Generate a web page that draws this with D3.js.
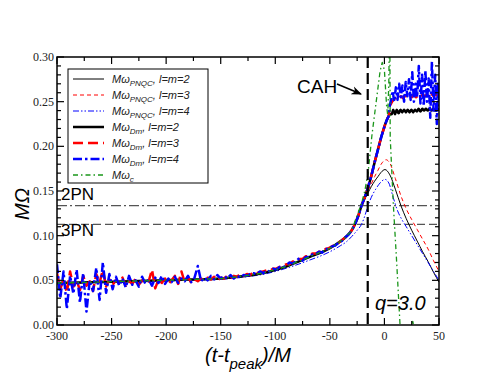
<!DOCTYPE html>
<html><head><meta charset="utf-8">
<script src="https://cdn.jsdelivr.net/npm/d3@7"></script>
<style>
body{margin:0;background:#fff;}
svg{display:block;}
</style></head>
<body><svg id="c" width="494" height="382"></svg>
<script>
// ---- data ----
const xTicks = [-300,-250,-200,-150,-100,-50,0,50];
const yTicks = [0.00,0.05,0.10,0.15,0.20,0.25,0.30];
const pn2 = 0.1336, pn3 = 0.1127, tCAH = -15.3;

const inspiralT = [-300,-270,-240,-210,-180,-150,-130,-110,-90,-70,-50,-40,-35,-30];
const inspiralV = [0.047,0.0478,0.0488,0.0498,0.0508,0.052,0.0545,0.0585,0.0655,0.0755,0.0859,0.094,0.0989,0.106];
const mergerT = [-27,-24,-21,-18,-15,-12,-9,-6,-3,0,2,4];
const mergerV = [0.1127,0.122,0.1336,0.143,0.154,0.167,0.182,0.196,0.210,0.222,0.229,0.234];

const blackRingT = [5,6.7,8,9.7,11.3,13,14.7,16.3,18,19.7,21.3,23,24.7,26.3,28,29.7,31.3,33,34.7,36.3,38,39.7,41.3,43,44.7,46.3,48,50];
const blackRingV = [0.236,0.236,0.241,0.236,0.241,0.237,0.241,0.238,0.241,0.238,0.241,0.238,0.241,0.238,0.241,0.239,0.242,0.239,0.242,0.240,0.242,0.240,0.242,0.240,0.242,0.240,0.242,0.241];

const redRingT = [5,7,9,11,13,15,17,19,21,23,25,27,29,31,33,35,37,39,41,43,45,47,50];
const redRingV = [0.245,0.250,0.253,0.255,0.253,0.256,0.254,0.257,0.255,0.257,0.255,0.258,0.255,0.257,0.255,0.258,0.256,0.258,0.255,0.259,0.256,0.258,0.256];

const blueRingT = [5,6,7.5,9,10.5,12,13.5,15,16.5,18,19.5,21,22.5,24,25.5,27,28.5,30,31.5,33,34.5,36,37.5,39,40.5,42,43.5,45,46.5,48,49,50];
const blueRingV = [0.246,0.252,0.262,0.250,0.266,0.252,0.270,0.255,0.268,0.250,0.272,0.256,0.275,0.252,0.283,0.250,0.270,0.255,0.290,0.248,0.280,0.245,0.285,0.250,0.276,0.232,0.295,0.240,0.280,0.225,0.270,0.245];

// noisy early part of the thick l=m=3 (red) and l=m=4 (blue) curves, t = -300..-30 step 3
const noisyT = d3.range(-300, -29, 3);
const redNoisyV = [0.058,0.040,0.052,0.036,0.060,0.043,0.050,0.039,0.055,0.044,0.049,0.038,0.057,0.047,0.062,0.043,
  0.051,0.045,0.050,0.047,0.053,0.044,0.049,0.046,0.052,0.045,0.050,0.047,0.049,0.062,0.041,0.051,0.047,0.052,0.046,0.050,
  0.055,0.046,0.060,0.048,0.054,0.047,0.051,0.049,0.052,0.050,0.053,0.051,0.054,0.050,0.053,0.052,0.055,0.052,0.055,0.054,
  0.057,0.055,0.057,0.056,0.059,0.058,0.059,0.060,0.061,0.061,0.063,0.063,0.065,0.066,0.068,0.068,0.071,0.071,0.074,0.074,
  0.077,0.077,0.080,0.080,0.082,0.082,0.085,0.086,0.088,0.090,0.092,0.095,0.098,0.101,0.106];
const blueNoisyV = [0.068,0.030,0.060,0.018,0.055,0.035,0.062,0.025,0.058,0.015,0.050,0.038,0.064,0.028,0.070,0.036,
  0.057,0.040,0.054,0.044,0.052,0.042,0.055,0.045,0.050,0.043,0.054,0.046,0.051,0.044,0.053,0.047,0.055,0.046,0.052,0.048,
  0.054,0.047,0.052,0.049,0.055,0.048,0.053,0.066,0.049,0.053,0.050,0.055,0.051,0.056,0.052,0.055,0.052,0.056,0.052,0.055,
  0.053,0.056,0.055,0.057,0.058,0.057,0.060,0.058,0.061,0.060,0.063,0.062,0.065,0.064,0.067,0.070,0.069,0.071,0.075,0.072,
  0.076,0.076,0.079,0.079,0.082,0.081,0.085,0.085,0.088,0.089,0.092,0.094,0.098,0.101,0.106];

const thinBlackT = [-27,-24,-21,-18,-15,-12,-9,-6,-3,0.5,5,10,15,20,25,30,35,40,45,50];
const thinBlackV = [0.1127,0.122,0.1336,0.141,0.148,0.155,0.161,0.166,0.171,0.174,0.168,0.152,0.134,0.119,0.106,0.094,0.082,0.071,0.059,0.048];
const thinRedT = [-27,-24,-21,-18,-15,-12,-9,-6,-3,1.5,5,10,15,20,25,30,35,40,45,50];
const thinRedV = [0.1127,0.122,0.1336,0.142,0.150,0.158,0.166,0.173,0.180,0.185,0.181,0.164,0.145,0.130,0.118,0.107,0.096,0.085,0.072,0.060];
const thinBlueT = [-300,-270,-240,-210,-180,-150,-130,-110,-90,-70,-50,-40,-35,-30,-25,-21,-18,-15,-12,-8,-4,0.5,4,8,12,16,20,25,30,35,40,45,50];
const thinBlueV = [0.046,0.047,0.048,0.049,0.050,0.0512,0.0535,0.057,0.0635,0.072,0.082,0.089,0.093,0.099,0.106,0.1127,0.122,0.1336,0.143,0.152,0.159,0.163,0.159,0.143,0.128,0.118,0.110,0.100,0.090,0.080,0.070,0.060,0.050];

const greenT = [-21,-18,-15,-11.4,-7,-4,-2,0,2,3,4,4.5,5,5.3,8.2,11,14.3,18,24,26,28];
const greenV = [0.136,0.150,0.170,0.213,0.255,0.284,0.294,0.285,0.245,0.235,0.27,0.32,0.32,0.21,0.134,0.075,0.0,-0.03,-0.01,0.004,-0.01];

// ---- layout ----
const svg = d3.select('#c');
const L=57,R=439,T=57,B=325;
const x = d3.scaleLinear().domain([-300,50]).range([L,R]);
const y = d3.scaleLinear().domain([0,0.30]).range([B,T]);
const zip=(ts,vs)=>ts.map((t,i)=>[t,vs[i]]);

svg.append('clipPath').attr('id','clip').append('rect').attr('x',L).attr('y',T).attr('width',R-L).attr('height',B-T);
const g = svg.append('g').attr('clip-path','url(#clip)');

// reference lines
g.append('line').attr('x1',L).attr('x2',R).attr('y1',y(pn2)).attr('y2',y(pn2))
  .attr('stroke','#555').attr('stroke-width',1.2).attr('stroke-dasharray','10,3,2,3');
g.append('line').attr('x1',L).attr('x2',R).attr('y1',y(pn3)).attr('y2',y(pn3))
  .attr('stroke','#555').attr('stroke-width',1.2).attr('stroke-dasharray','8,4');

const lineS = d3.line().x(d=>x(d[0])).y(d=>y(d[1])).curve(d3.curveMonotoneX);
const lineL = d3.line().x(d=>x(d[0])).y(d=>y(d[1]));

const inspiral = zip(inspiralT,inspiralV);
const merger = zip(mergerT,mergerV);

function path(data, color, w, dash, gen){
  g.append('path').datum(data).attr('d',(gen||lineS)).attr('fill','none')
    .attr('stroke',color).attr('stroke-width',w).attr('stroke-dasharray',dash||null)
    .attr('stroke-linejoin','round');
}
const RED='#ff0000', BLUE='#0000ff', GREEN='#1a961a';
// thin PNQC
path(inspiral.concat(zip(thinBlackT,thinBlackV)), '#000', 1, null);
path(inspiral.concat(zip(thinRedT,thinRedV)), RED, 1, '4,3');
path(zip(thinBlueT,thinBlueV), BLUE, 1, '6,2,1.5,2,1.5,2');
// thick Dm
path(inspiral.concat(merger, zip(blackRingT,blackRingV)), '#000', 2.5, null);
path(zip(noisyT,redNoisyV).concat(merger, zip(redRingT,redRingV)), RED, 2.5, '10,5', lineL);
path(zip(noisyT,blueNoisyV).concat(merger, zip(blueRingT,blueRingV)), BLUE, 2.5, '9,3,2.5,3', lineL);
// omega_c
path(inspiral.concat(zip(greenT,greenV)), GREEN, 1.3, '5,3,1.5,3', lineL);

// CAH vertical
svg.append('line').attr('x1',x(tCAH)).attr('x2',x(tCAH)).attr('y1',T).attr('y2',B)
  .attr('stroke','#000').attr('stroke-width',2.2).attr('stroke-dasharray','11,5');

// axes
const fr = svg.append('g');
fr.append('rect').attr('x',L).attr('y',T).attr('width',R-L).attr('height',B-T)
  .attr('fill','none').attr('stroke','#000').attr('stroke-width',1.5);
const xMinor = d3.range(-300,51,25), yMinor = d3.range(0,0.3001,0.01);
xMinor.forEach(v=>{
  const major = v%50===0, len = major?7:4;
  fr.append('line').attr('x1',x(v)).attr('x2',x(v)).attr('y1',B).attr('y2',B-len).attr('stroke','#000').attr('stroke-width',1.2);
  fr.append('line').attr('x1',x(v)).attr('x2',x(v)).attr('y1',T).attr('y2',T+len).attr('stroke','#000').attr('stroke-width',1.2);
});
yMinor.forEach((v,i)=>{
  const major = i%5===0, len = major?7:4;
  fr.append('line').attr('y1',y(v)).attr('y2',y(v)).attr('x1',L).attr('x2',L+len).attr('stroke','#000').attr('stroke-width',1.2);
  fr.append('line').attr('y1',y(v)).attr('y2',y(v)).attr('x1',R).attr('x2',R-len).attr('stroke','#000').attr('stroke-width',1.2);
});
const serif = '"Liberation Serif","DejaVu Serif",serif';
const sans = '"Liberation Sans",Arial,sans-serif';
xTicks.forEach(v=>{
  svg.append('text').attr('x',x(v)).attr('y',B+15).attr('text-anchor','middle')
    .attr('font-family',serif).attr('font-size',12).attr('fill','#222').text(v);
});
yTicks.forEach(v=>{
  svg.append('text').attr('x',L-3).attr('y',y(v)+4).attr('text-anchor','end')
    .attr('font-family',serif).attr('font-size',12).attr('fill','#222').text(v.toFixed(2));
});

// axis labels
const xl = svg.append('text').attr('x',248).attr('y',362).attr('text-anchor','middle')
  .attr('font-family',sans).attr('font-style','italic').attr('font-size',20);
xl.append('tspan').text('(t-t');
xl.append('tspan').attr('dy',7).attr('font-size',15).text('peak');
xl.append('tspan').attr('dy',-7).text(')/M');
svg.append('text').attr('transform','translate(29,204) rotate(-90)').attr('text-anchor','middle')
  .attr('font-family',sans).attr('font-style','italic').attr('font-size',20).text('MΩ');

// annotations
svg.append('text').attr('x',61).attr('y',200).attr('font-family',sans).attr('font-size',17).text('2PN');
svg.append('text').attr('x',61).attr('y',236).attr('font-family',sans).attr('font-size',17).text('3PN');
svg.append('text').attr('x',297).attr('y',93).attr('font-family',sans).attr('font-size',19).text('CAH');
svg.append('defs').append('marker').attr('id','ah').attr('viewBox','0 0 10 10').attr('refX',9).attr('refY',5)
  .attr('markerWidth',7).attr('markerHeight',7).attr('orient','auto')
  .append('path').attr('d','M0,1 L10,5 L0,9 L3,5 Z').attr('fill','#000');
svg.append('line').attr('x1',337).attr('y1',84).attr('x2',361).attr('y2',94)
  .attr('stroke','#000').attr('stroke-width',1.5).attr('marker-end','url(#ah)');
svg.append('text').attr('x',375).attr('y',310).attr('font-family',sans).attr('font-style','italic')
  .attr('font-size',20).text('q=3.0');

// legend
const legNames = [['PNQC','2'],['PNQC','3'],['PNQC','4'],['Dm','2'],['Dm','3'],['Dm','4'],['c',null]];
const legStyles = [['#000',1,null],[RED,1,'4,3'],[BLUE,1,'6,2,1.5,2,1.5,2'],['#000',2.5,null],[RED,2.5,'10,5'],[BLUE,2.5,'9,3,2.5,3'],[GREEN,1.3,'5,3,1.5,3']];
svg.append('rect').attr('x',68).attr('y',69).attr('width',140).attr('height',114)
  .attr('fill','#fff').attr('stroke','#000').attr('stroke-width',1);
legNames.forEach((n,i)=>{
  const yy = 79 + i*16;
  const s = legStyles[i];
  svg.append('line').attr('x1',73).attr('x2',104).attr('y1',yy).attr('y2',yy)
    .attr('stroke',s[0]).attr('stroke-width',s[1]).attr('stroke-dasharray',s[2]);
  const t = svg.append('text').attr('x',112).attr('y',yy+4).attr('font-family',sans)
    .attr('font-style','italic').attr('font-size',11).attr('fill','#222');
  t.append('tspan').text('Mω');
  t.append('tspan').attr('dy',3).attr('font-size',8).text(n[0]);
  if(n[1]) t.append('tspan').attr('dy',-3).text(', l=m='+n[1]);
});
</script></body></html>
